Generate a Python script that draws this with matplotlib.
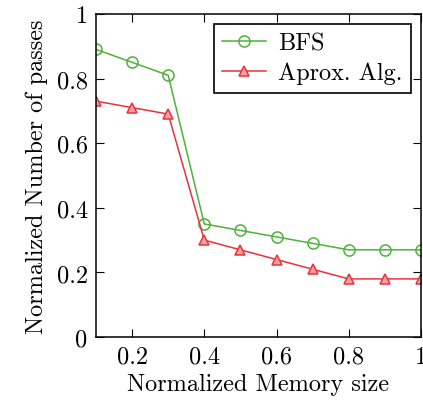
import matplotlib
matplotlib.use("Agg")
import matplotlib.pyplot as plt

mem_size = [0.1, 0.2, 0.3, 0.4, 0.5, 0.6, 0.7, 0.8, 0.9, 1.0]
bfs = [0.89, 0.85, 0.81, 0.35, 0.33, 0.31, 0.29, 0.27, 0.27, 0.27]
aprox = [0.73, 0.71, 0.69, 0.30, 0.27, 0.24, 0.21, 0.18, 0.18, 0.18]

plt.rcParams['font.family'] = 'cmr10'
plt.rcParams['axes.formatter.use_mathtext'] = True
plt.rcParams['font.size'] = 17.5

fig = plt.figure(figsize=(4.23, 4.02), dpi=100)
ax = fig.add_axes([0.227, 0.159, 0.768, 0.804])

ax.plot(mem_size, bfs, color='#4cb33a', lw=1.1, marker='o', ms=8,
        mfc='none', mec='#4cb33a', mew=1.1, label='BFS')
ax.plot(mem_size, aprox, color='#e8333c', lw=1.1, marker='^', ms=7,
        mfc='#f4a0a4', mec='#e8333c', mew=1.1, label='Aprox. Alg.')

ax.set_xlim(0.1, 1.0)
ax.set_ylim(0, 1)
ax.set_xticks([0.2, 0.4, 0.6, 0.8, 1.0])
ax.set_xticklabels(['0.2', '0.4', '0.6', '0.8', '1'])
ax.set_yticks([0, 0.2, 0.4, 0.6, 0.8, 1.0])
ax.set_yticklabels(['0', '0.2', '0.4', '0.6', '0.8', '1'])
ax.tick_params(direction='in', top=True, right=True, length=6, width=0.8, pad=6)
for s in ax.spines.values():
    s.set_linewidth(1.1)

ax.set_xlabel('Normalized Memory size', labelpad=4)
ax.set_ylabel('Normalized Number of passes', labelpad=6)

leg = ax.legend(loc='upper right', fancybox=False, edgecolor='black',
                framealpha=1, borderaxespad=0.4, handlelength=1.8,
                borderpad=0.35, labelspacing=0.3, handletextpad=0.5)
leg.get_frame().set_linewidth(1.2)

fig.savefig('out.png', dpi=100)
